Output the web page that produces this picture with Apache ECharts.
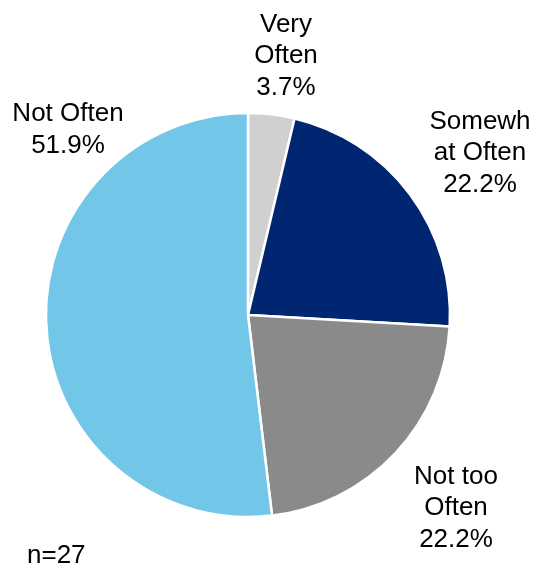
<!DOCTYPE html>
<html>
<head>
<meta charset="utf-8">
<script src="https://cdn.jsdelivr.net/npm/echarts@6/dist/echarts.min.js"></script>
<style>
  html, body { margin: 0; padding: 0; background: #fff; }
  #chart { width: 545px; height: 568px; }
</style>
</head>
<body>
<div id="chart"></div>
<script>
// Share of respondents by frequency (n = 27)
const categories = ['Very Often', 'Somewhat Often', 'Not too Often', 'Not Often'];
const labelText = ['Very\nOften', 'Somewh\nat Often', 'Not too\nOften', 'Not Often'];
const percentValues = [3.7, 22.2, 22.2, 51.9];
const sampleNote = 'n=27';

const sliceColors = ['#d0d0d0', '#002571', '#8a8a8a', '#72c6e7'];
// Label anchor points (block centre) for each slice
const labelSpots = [[286, 56], [480, 153], [456, 508], [68, 130]];

const chart = echarts.init(document.getElementById('chart'), null, { renderer: 'canvas' });

chart.setOption({
  animation: false,
  backgroundColor: '#ffffff',
  title: {
    text: sampleNote,
    left: 22,
    top: 538,
    textStyle: { fontFamily: 'Liberation Sans, Arial, sans-serif', fontSize: 26, fontWeight: 'normal', color: '#000' }
  },
  series: [{
    type: 'pie',
    center: [248, 315],
    radius: [0, 202],
    startAngle: 90,
    clockwise: true,
    avoidLabelOverlap: false,
    data: categories.map((name, i) => ({
      name: name,
      value: percentValues[i],
      itemStyle: { color: sliceColors[i] }
    })),
    itemStyle: { borderColor: '#ffffff', borderWidth: 2.5 },
    label: {
      show: true,
      position: 'outside',
      overflow: 'none',
      formatter: p => labelText[p.dataIndex] + '\n' + p.value.toFixed(1) + '%',
      fontFamily: 'Liberation Sans, Arial, sans-serif',
      fontSize: 26,
      lineHeight: 31.5,
      color: '#000',
      align: 'center'
    },
    labelLine: { show: false },
    labelLayout: p => ({
      x: labelSpots[p.dataIndex][0],
      y: labelSpots[p.dataIndex][1],
      align: 'center',
      verticalAlign: 'middle',
      hideOverlap: false,
      moveOverlap: null
    }),
    emphasis: { disabled: true }
  }]
});
</script>
</body>
</html>
